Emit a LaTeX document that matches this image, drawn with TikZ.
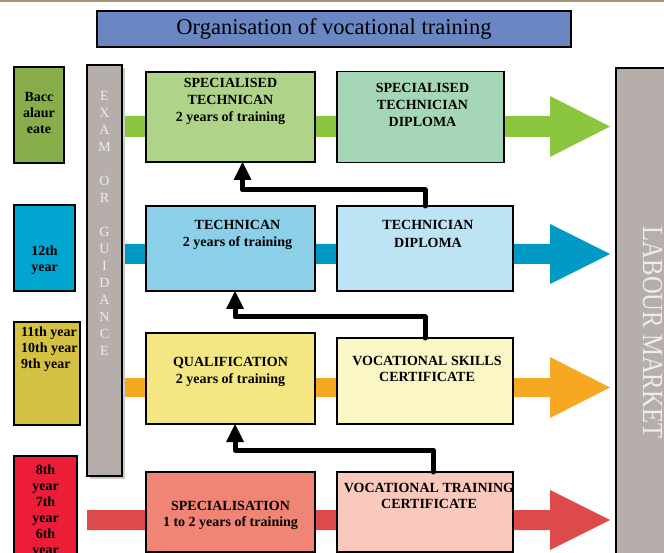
\documentclass[tikz,border=0pt]{standalone}
\usepackage{fontspec}
\setmainfont{Liberation Serif}
\usepackage{graphicx}
\usepackage{tikz}
\usetikzlibrary{arrows.meta, positioning, backgrounds, shadows}
\usepackage{xcolor}

\definecolor{topline}{HTML}{A6957A}
\definecolor{titlefill}{HTML}{6A86C3}
\definecolor{bargray}{HTML}{B6AEAB}
\definecolor{lettergray}{HTML}{EDEDED}
\definecolor{baccfill}{HTML}{88AE4C}
\definecolor{twelfill}{HTML}{00A5D0}
\definecolor{elevfill}{HTML}{D5C143}
\definecolor{eightfill}{HTML}{EC1D39}
\definecolor{stfill}{HTML}{AFD389}
\definecolor{stdfill}{HTML}{A5D7B6}
\definecolor{greenband}{HTML}{8CC63F}
\definecolor{tefill}{HTML}{8BCFE8}
\definecolor{tdfill}{HTML}{BCE4F4}
\definecolor{blueband}{HTML}{0099C5}
\definecolor{qufill}{HTML}{F4E682}
\definecolor{vsfill}{HTML}{FAF6C5}
\definecolor{orangeband}{HTML}{F7A823}
\definecolor{spfill}{HTML}{F08576}
\definecolor{vtfill}{HTML}{F9C9BE}
\definecolor{redband}{HTML}{DC4A4B}

\begin{document}
\begin{tikzpicture}[x=1pt, y=-1pt,
    box/.style={draw, line width=1.6pt, rectangle, inner sep=0pt, outer sep=0pt},
    txt/.style={font=\bfseries\fontsize{14}{17}\selectfont, align=center, inner sep=0pt},
    yrtxt/.style={font=\bfseries\fontsize{14}{16}\selectfont, align=center, inner sep=0pt},
    link/.style={line width=5pt, line join=round, line cap=round,
        -{Triangle[width=18pt, length=18pt, line width=0pt]}}]
    \useasboundingbox (0,0) rectangle (664,553);
    \fill[topline] (0,0) rectangle (664,2.2);

    \node[box, fill=titlefill, minimum width=474pt, minimum height=36pt, anchor=north west,
        font=\fontsize{22.5}{27}\selectfont] (title) at (97,11) {Organisation of vocational training};

    % years
    \node[box, fill=baccfill, minimum width=50pt, minimum height=96pt, anchor=north west] (bac) at (14,67) {};
    \node[yrtxt, below=25pt of bac.north] (bac-l) {Bacc\\alaur\\eate};
    \node[box, fill=twelfill, minimum width=61pt, minimum height=86pt, anchor=north west] (twe) at (14,205) {};
    \node[yrtxt, below=41pt of twe.north] (twe-l) {12th\\year};
    \node[box, fill=elevfill, minimum width=66pt, minimum height=103pt, anchor=north west] (ele) at (14,322) {};
    \node[yrtxt, align=left, below right=5pt and 7pt of ele.north west] (ele-l) {11th year\\10th year\\9th year};
    \node[box, fill=eightfill, minimum width=63pt, minimum height=110pt, anchor=north west] (eig) at (14,456) {};
    \node[yrtxt, below=9pt of eig.north] (eig-l) {8th\\year\\7th\\year\\6th\\year};

    % exam bar and labour market
    \node[box, fill=bargray, minimum width=35pt, minimum height=411pt, anchor=north west,
        drop shadow={shadow xshift=3pt, shadow yshift=-3pt, fill=black!20, opacity=1}] (exam) at (87,65) {};
    \node[font=\fontsize{14}{17}\selectfont, text=lettergray, align=center, inner sep=0pt,
        below=26pt of exam.north] (exam-l) {E\\X\\A\\M\\[17pt]O\\R\\[17pt]G\\U\\I\\D\\A\\N\\C\\E};
    \node[box, fill=bargray, minimum width=62pt, minimum height=490pt, anchor=north west] (lab) at (616,68) {};
    \node[font=\fontsize{29}{34}\selectfont, text=lettergray, rotate=-90, inner sep=0pt] (lab-l)
        at (652.5,332.5) {\scalebox{0.85}[1]{LABOUR MARKET}};

    % training boxes
    \node[box, fill=stfill, minimum width=169pt, minimum height=90pt, anchor=north west] (st) at (146,72) {};
    \node[box, fill=stdfill, minimum width=167pt, minimum height=91pt, right=22pt of st] (std) {};
    \node[box, fill=tefill, minimum width=169pt, minimum height=85pt, below=44pt of st] (te) {};
    \node[box, fill=tdfill, minimum width=176pt, minimum height=85pt, right=22pt of te] (td) {};
    \node[box, fill=qufill, minimum width=169pt, minimum height=91pt, below=42pt of te] (qu) {};
    \node[box, fill=vsfill, minimum width=176pt, minimum height=86pt, right=22pt of qu, yshift=-2.5pt] (vs) {};
    \node[box, fill=spfill, minimum width=169pt, minimum height=80pt, below=48pt of qu] (sp) {};
    \node[box, fill=vtfill, minimum width=176pt, minimum height=80pt, right=22pt of sp] (vt) {};

    \node[txt, below=6pt of st.north] (st-l) {SPECIALISED\\TECHNICAN\\2 years of training};
    \node[txt, below=12pt of std.north, xshift=2pt] (std-l) {SPECIALISED\\TECHNICIAN\\DIPLOMA};
    \node[txt, below=14pt of te.north, xshift=7pt] (te-l) {TECHNICAN\\2 years of training};
    \node[txt, below=14pt of td.north, xshift=3pt] (td-l) {TECHNICIAN\\[1pt]DIPLOMA};
    \node[txt, below=24pt of qu.north] (qu-l) {QUALIFICATION\\2 years of training};
    \node[txt, below=18pt of vs.north, xshift=2pt] (vs-l) {VOCATIONAL SKILLS\\[-1pt]CERTIFICATE};
    \node[txt, below=29pt of sp.north] (sp-l) {SPECIALISATION\\[-1pt]1 to 2 years of training};
    \node[txt, below=11pt of vt.north, xshift=4pt] (vt-l) {VOCATIONAL TRAINING\\[-1pt]CERTIFICATE};

    % progression
    \draw[link] (td.north) -- ++(0,-16) -| ([xshift=12pt]st.south);
    \draw[link] (vs.north) -- ++(0,-21) -| ([xshift=4.5pt]te.south);
    \draw[link] ([xshift=8pt]vt.north) -- ++(0,-22) -| ([xshift=4.5pt]qu.south);

    % bands to the labour market
    \begin{scope}[on background layer]
        \fill[greenband] (exam.east |- 0,116) -- (550,116) -- (550,96) -- (610,126.5) -- (550,157)
            -- (550,137) -- (exam.east |- 0,137) -- cycle;
        \fill[blueband] (exam.east |- 0,244) -- (550,244) -- (550,224) -- (610,254) -- (550,284)
            -- (550,264) -- (exam.east |- 0,264) -- cycle;
        \fill[orangeband] (exam.east |- 0,378) -- (550,378) -- (550,357) -- (610,387.5) -- (550,418)
            -- (550,397) -- (exam.east |- 0,397) -- cycle;
        \fill[redband] (exam.west |- 0,510) -- (550,510) -- (550,490) -- (610,520) -- (550,550)
            -- (550,530) -- (exam.west |- 0,530) -- cycle;
    \end{scope}
\end{tikzpicture}
\end{document}
